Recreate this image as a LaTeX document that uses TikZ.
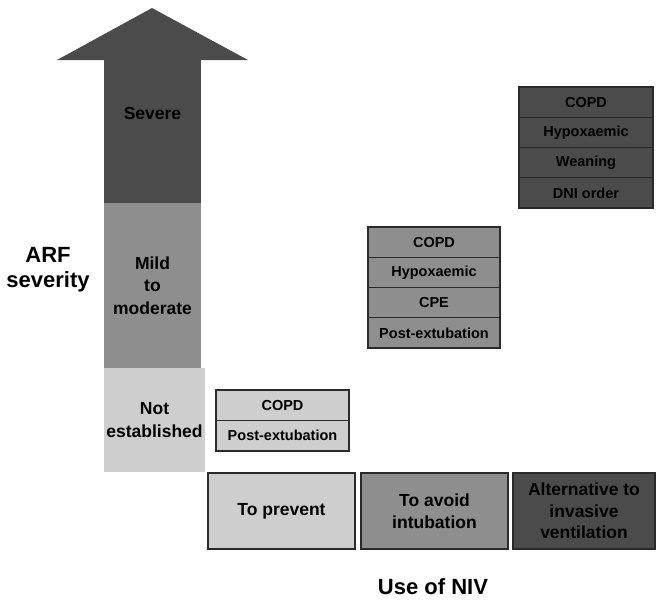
\documentclass[tikz,border=0pt]{standalone}
\usepackage{fontspec}
\setmainfont{Liberation Sans}
\definecolor{darkg}{HTML}{4B4B4B}
\definecolor{midg}{HTML}{8E8E8E}
\definecolor{lightg}{HTML}{CECECE}
\definecolor{edgeg}{HTML}{2A2A2A}
\begin{document}
\begin{tikzpicture}[x=1pt,y=-1pt,
  cell/.style={draw=edgeg, line width=1.1pt, inner sep=0pt, minimum height=30.25pt,
    font=\bfseries\fontsize{14.5}{16}\selectfont, text=black},
  usebox/.style={draw=edgeg, line width=1.1pt, inner sep=0pt, minimum height=76pt,
    align=center, font=\bfseries\fontsize{17.5}{21.5}\selectfont, text=black},
  band/.style={inner sep=0pt, align=center, font=\bfseries\fontsize{17.5}{22.5}\selectfont, text=black},
  axislabel/.style={inner sep=0pt, align=center, font=\bfseries\fontsize{22}{25}\selectfont, text=black}]
\useasboundingbox (0,0) rectangle (656,600);
% ARF severity arrow
\fill[darkg] (57,60) -- (152,8) -- (248,60) -- cycle;
\node[band, fill=darkg, minimum width=97pt, minimum height=143.5pt] (severe) at (152.5,131.5) {};
\node[band] (severetxt) at (152.5,113) {Severe};
\node[band, fill=midg, minimum width=97pt, minimum height=165pt] (mild) at (152.5,285.5) {Mild\\to\\moderate};
\node[band, fill=lightg, minimum width=101pt, minimum height=104pt] (notest) at (154.5,420) {Not\\established};
\node[axislabel] (arf) at (48,270) {ARF\\severity};
% top right box
\node[cell, fill=darkg, minimum width=134pt] (tr1) at (586,102.1) {COPD};
\node[cell, fill=darkg, minimum width=134pt] (tr2) at (586,132.4) {Hypoxaemic};
\node[cell, fill=darkg, minimum width=134pt] (tr3) at (586,162.6) {Weaning};
\node[cell, fill=darkg, minimum width=134pt] (tr4) at (586,192.9) {DNI order};
% middle box
\node[cell, fill=midg, minimum width=132pt] (md1) at (434,242.1) {COPD};
\node[cell, fill=midg, minimum width=132pt] (md2) at (434,272.4) {Hypoxaemic};
\node[cell, fill=midg, minimum width=132pt] (md3) at (434,302.6) {CPE};
\node[cell, fill=midg, minimum width=132pt] (md4) at (434,332.9) {Post-extubation};
% small box
\node[cell, fill=lightg, minimum width=133pt, minimum height=30.5pt] (sm1) at (282.5,405.25) {COPD};
\node[cell, fill=lightg, minimum width=133pt, minimum height=30.5pt] (sm2) at (282.5,435.75) {Post-extubation};
% use of NIV boxes
\node[usebox, fill=lightg, minimum width=147pt] (prevent) at (281.5,511) {To prevent};
\node[usebox, fill=midg, minimum width=147pt] (avoid) at (434.5,511) {To avoid\\intubation};
\node[usebox, fill=darkg, minimum width=142pt] (alt) at (584,511) {Alternative to\\invasive\\ventilation};
\node[axislabel] (niv) at (433,587) {Use of NIV};
\end{tikzpicture}
\end{document}
